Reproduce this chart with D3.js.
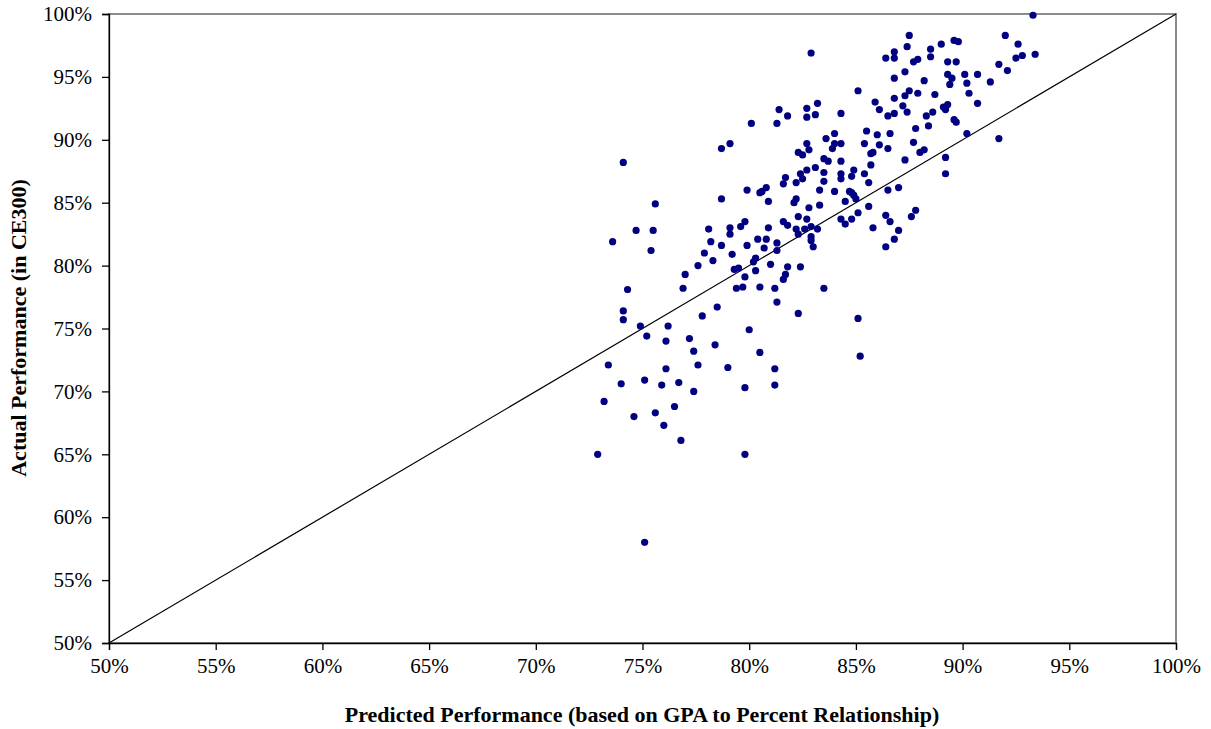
<!DOCTYPE html>
<html><head><meta charset="utf-8">
<script src="https://cdn.jsdelivr.net/npm/d3@7"></script>
<style>
html,body{margin:0;padding:0;background:#fff;}
svg text{font-family:"Liberation Serif","Times New Roman",serif;}
</style></head>
<body>
<svg id="chart" width="1211" height="729"></svg>
<script>
const predicted = [93.3,87.5,92.0,92.6,93.4,92.8,92.5,91.7,92.1,91.3,90.7,90.1,90.2,90.3,90.7,89.6,89.8,89.0,88.5,88.5,89.3,89.7,89.3,89.5,89.4,88.2,88.7,87.9,87.5,87.3,86.8,87.2,87.4,86.5,86.8,88.3,88.6,89.1,89.3,89.2,89.6,89.7,88.4,87.8,86.6,87.7,90.2,91.7,86.8,87.3,87.7,87.9,86.8,86.8,86.4,87.4,
82.9,85.1,85.9,86.1,83.2,82.7,82.7,83.1,84.3,81.4,81.8,81.3,80.1,84.0,83.6,85.5,86.0,82.7,84.0,84.3,85.4,86.1,
86.5,88.0,88.2,87.3,89.2,89.2,86.5,87.0,86.4,86.6,87.6,87.8,87.0,86.8,86.4,
83.9,85.8,85.7,82.3,82.5,82.8,83.5,83.7,84.3,85.7,83.1,82.7,82.4,83.5,84.9,84.3,84.8,85.4,81.7,81.6,82.2,82.5,83.5,84.3,85.6,79.9,80.6,80.8,80.5,83.3,84.0,84.7,84.8,84.9,85.0,84.5,80.9,82.1,82.2,83.3,82.8,85.6,85.1,84.8,84.3,84.5,85.8,79.8,79.6,80.9,82.3,82.7,81.6,81.8,82.2,82.6,82.9,83.2,82.3,82.9,82.9,83.0,80.4,80.8,79.9,80.7,81.3,81.3,80.3,80.2,80.3,81.0,81.8,82.4,79.8,81.6,81.7,
74.1,78.7,79.1,75.6,78.7,74.7,75.5,73.6,75.4,78.1,79.1,79.1,78.2,78.7,77.9,79.2,78.3,77.6,79.3,79.5,77.0,
74.3,76.9,79.4,74.1,74.1,74.9,76.2,78.5,77.8,75.2,76.1,77.2,78.4,77.4,73.4,76.1,77.6,79.0,74.0,75.1,75.9,76.7,77.4,73.2,76.5,75.6,74.6,
79.7,80.5,81.2,83.5,81.3,82.3,85.1,80.0,80.5,85.2,81.2,79.8,81.2,
76.0,76.8,72.9,75.1,79.8];
const actual = [99.9,98.3,98.3,97.6,96.8,96.7,96.5,96.0,95.5,94.6,95.2,95.2,94.5,93.7,92.9,97.9,97.8,97.6,97.2,96.6,96.2,96.2,95.2,94.9,94.4,94.7,93.6,93.7,93.9,93.5,93.3,92.7,92.2,91.9,92.1,91.9,92.2,92.6,92.8,92.4,91.6,91.4,91.1,90.9,90.5,89.8,90.5,90.1,94.9,95.4,96.2,96.4,97.0,96.5,96.5,97.4,
96.9,93.9,93.0,92.4,92.9,92.5,91.8,92.0,92.1,92.4,91.9,91.3,91.3,90.5,90.1,90.7,90.4,89.7,89.7,89.7,89.7,89.6,
89.3,89.0,89.2,88.4,88.6,87.3,86.0,86.2,84.0,83.5,83.9,84.4,82.8,82.1,81.5,
89.3,89.0,88.9,89.0,88.8,89.2,88.5,88.3,88.3,88.0,87.8,87.6,87.3,87.4,87.6,87.3,87.1,87.3,87.0,86.5,86.6,86.9,86.7,86.9,86.6,86.0,85.9,86.2,85.8,86.0,85.9,85.9,85.8,85.6,85.3,85.1,85.1,85.0,85.3,84.8,84.6,84.7,84.2,83.7,83.7,83.3,83.0,83.5,83.1,83.0,83.9,83.7,83.5,83.2,82.9,82.9,83.1,82.9,82.5,82.3,82.0,81.5,82.1,82.1,81.6,81.4,81.8,81.2,80.6,80.3,79.6,80.1,79.9,79.9,79.1,78.9,79.3,
88.2,89.3,89.7,84.9,85.3,82.8,82.8,81.9,81.2,82.9,83.0,82.5,81.9,81.6,81.0,80.9,80.4,80.0,79.7,79.8,79.3,
78.1,78.2,78.2,76.4,75.7,75.2,75.2,76.7,76.0,74.4,74.0,74.2,73.7,73.2,72.1,71.8,72.1,71.9,70.6,70.9,70.5,70.7,70.0,69.2,68.8,68.3,68.0,
78.3,78.3,78.2,78.2,77.1,76.2,75.8,74.9,73.1,72.8,71.8,70.3,70.5,
67.3,66.1,65.0,58.0,65.0];
const xTicks = [50,55,60,65,70,75,80,85,90,95,100];
const yTicks = [50,55,60,65,70,75,80,85,90,95,100];
const xTitle = "Predicted Performance (based on GPA to Percent Relationship)";
const yTitle = "Actual Performance (in CE300)";

const points = predicted.map((p,i)=>({x:p,y:actual[i]}));
const svg = d3.select("#chart");
const L=109,R=1176,T=14,B=643;
const x = d3.scaleLinear().domain([50,100]).range([L,R]);
const y = d3.scaleLinear().domain([50,100]).range([B,T]);

svg.append("rect").attr("x",L).attr("y",T).attr("width",R-L).attr("height",B-T)
  .attr("fill","none").attr("stroke","#8c8c8c").attr("stroke-width",2);

svg.append("line").attr("x1",x(50)).attr("y1",y(50)).attr("x2",x(100)).attr("y2",y(100))
  .attr("stroke","#000").attr("stroke-width",1.2);

svg.append("g").selectAll("circle").data(points).join("circle")
  .attr("cx",d=>x(d.x)).attr("cy",d=>y(d.y)).attr("r",3.6).attr("fill","#000080");

const yAxis = svg.append("g").attr("transform",`translate(${L},0)`)
  .call(d3.axisLeft(y).tickValues(yTicks).tickSize(7).tickPadding(10).tickFormat(d=>d+"%"));
const xAxis = svg.append("g").attr("transform",`translate(0,${B})`)
  .call(d3.axisBottom(x).tickValues(xTicks).tickSize(7).tickPadding(8).tickFormat(d=>d+"%"));
[yAxis,xAxis].forEach(a=>{
  a.selectAll("path,line").attr("stroke","#000").attr("stroke-width",1.3);
  a.selectAll("text").attr("fill","#000").style("font-size","21px")
   .style("font-family","'Liberation Serif','Times New Roman',serif");
});

svg.append("text").attr("x",642).attr("y",722).attr("text-anchor","middle")
  .style("font-size","22px").style("font-weight","bold").text(xTitle);
svg.append("text").attr("transform",`translate(26,328) rotate(-90)`).attr("text-anchor","middle")
  .style("font-size","22px").style("font-weight","bold").text(yTitle);
</script>
</body></html>
